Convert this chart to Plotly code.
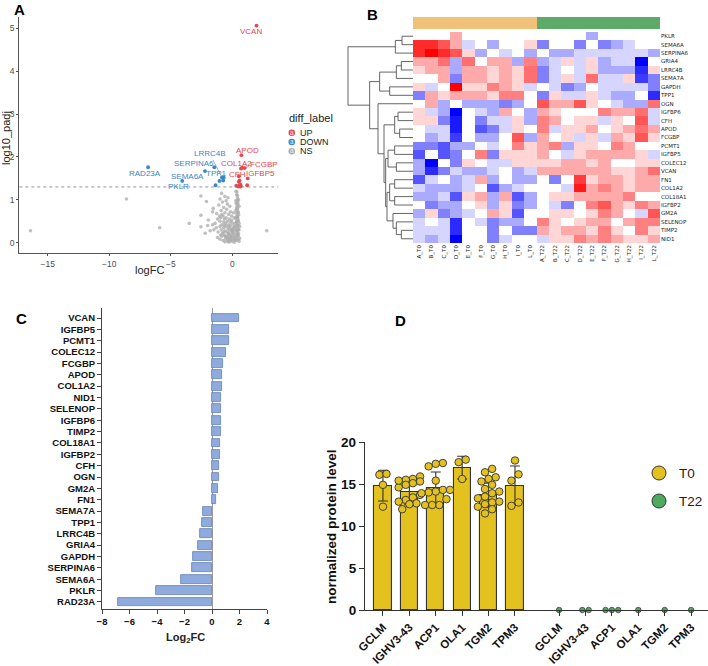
import numpy as np
import plotly.graph_objects as go

W, H = 708, 666
def px(x): return x / W
def py(y): return 1 - y / H

# ---------------- DATA ----------------
# Panel C / significant proteins (log2 fold change)
c_genes = ["VCAN","IGFBP5","PCMT1","COLEC12","FCGBP","APOD","COL1A2","NID1","SELENOP",
           "IGFBP6","TIMP2","COL18A1","IGFBP2","CFH","OGN","GM2A","FN1","SEMA7A","TPP1",
           "LRRC4B","GRIA4","GAPDH","SERPINA6","SEMA6A","PKLR","RAD23A"]
c_log2fc = [1.97,1.26,1.21,1.01,0.81,0.74,0.71,0.68,0.67,0.66,0.65,0.59,0.57,0.54,0.53,0.47,
            0.32,-0.69,-0.74,-0.84,-1.04,-1.36,-1.46,-2.22,-4.07,-6.84]
# Panel A: -log10 adjusted p for the significant proteins (same order as c_genes)
sig_log10padj = [5.06,1.50,1.34,1.74,1.75,2.04,1.73,1.32,1.34,1.31,1.36,1.45,1.33,1.55,1.42,
                 1.31,1.33,1.52,1.45,1.52,1.44,1.34,1.76,1.67,1.44,1.76]
# Panel A: non-significant proteins
ns_logfc = [-16.4,-8.6,-5.9,-3.5,2.8,
 -2.55,-1.0,-0.87,0.3,0.35,0.42,0.38,-0.35,0.5,-0.6,
 -2.1,-1.55,-1.1,-0.8,-0.7,-0.4,-0.2,0.32,0.4,0.45,0.36,0.55,0.28,-0.5,
 -2.55,-1.27,-0.9,-0.75,-0.6,-0.45,-0.3,-0.15,0.3,0.35,0.42,0.48,0.38,0.52,-1.05,-0.85,0.1,-0.05,-1.6,
 -1.95,-1.4,-1.2,-1.0,-0.85,-0.7,-0.65,-0.55,-0.5,-0.4,-0.3,-0.25,-0.15,-0.05,0.05,0.15,0.3,0.35,0.4,0.45,0.38,0.5,0.55,0.32,-0.95,-1.6,-2.0,
 -2.55,-2.2,-1.5,-1.3,-1.15,-1.0,-0.9,-0.8,-0.7,-0.6,-0.5,-0.45,-0.35,-0.3,-0.25,-0.2,-0.1,0.0,0.1,0.2,0.28,0.32,0.36,0.4,0.45,0.5,0.55,0.6,-0.65,-1.8,
 -1.2,-1.0,-0.85,-0.75,-0.65,-0.55,-0.45,-0.38,-0.3,-0.22,-0.15,-0.08,0.0,0.05,0.12,0.18,0.25,0.3,0.35,0.4,0.45,0.5,0.55,0.6,-0.95,-0.6,-0.2,0.15,
 0.42,0.44,0.46,0.43,0.47,0.41,0.45,0.44,0.48,0.43,-0.3,-0.1,0.1,0.2,-0.4,-0.2,0.0,0.25,-0.55,-0.7,-0.35,-0.15,0.05,0.15,-0.05]
ns_log10padj = [0.28,1.02,0.35,0.45,0.28,
 1.09,1.02,1.15,1.2,1.12,1.05,1.18,1.05,1.0,1.08,
 0.96,0.8,0.88,0.95,0.82,0.9,0.85,0.92,0.88,0.95,0.82,0.85,0.98,0.98,
 0.64,0.68,0.75,0.62,0.7,0.78,0.66,0.72,0.75,0.68,0.62,0.72,0.78,0.65,0.62,0.66,0.7,0.62,0.72,
 0.53,0.45,0.55,0.5,0.42,0.48,0.55,0.45,0.58,0.5,0.42,0.55,0.48,0.52,0.45,0.58,0.55,0.48,0.42,0.58,0.5,0.52,0.45,0.6,0.58,0.42,0.4,
 0.37,0.22,0.3,0.35,0.25,0.38,0.3,0.22,0.35,0.28,0.38,0.25,0.32,0.22,0.36,0.28,0.32,0.25,0.35,0.3,0.38,0.25,0.32,0.28,0.35,0.22,0.3,0.38,0.4,0.28,
 0.12,0.08,0.15,0.05,0.18,0.1,0.15,0.05,0.12,0.18,0.08,0.14,0.04,0.1,0.16,0.06,0.12,0.18,0.05,0.14,0.08,0.16,0.03,0.1,0.18,0.02,0.02,0.01,
 1.1,1.0,0.9,0.8,0.7,0.6,0.5,0.4,0.3,0.2,0.2,0.12,0.22,0.08,0.1,0.05,0.3,0.45,0.15,0.25,0.02,0.4,0.28,0.38,0.2]
padj_cutoff = 1.3
volc_labels = ["VCAN","APOD","COL1A2","FCGBP","CFH","IGFBP5","LRRC4B","SERPINA6","TPP1","SEMA6A","PKLR","RAD23A"]

# Panel B heatmap
hm_cols = ["A_T0","B_T0","C_T0","D_T0","E_T0","F_T0","G_T0","H_T0","I_T0","L_T0",
           "A_T22","B_T22","C_T22","D_T22","E_T22","F_T22","G_T22","H_T22","I_T22","L_T22"]
hm_rows = ["PKLR","SEMA6A","SERPINA6","GRIA4","LRRC4B","SEMA7A","GAPDH","TPP1","OGN","IGFBP6",
           "CFH","APOD","FCGBP","PCMT1","IGFBP5","COLEC12","VCAN","FN1","COL1A2","COL18A1",
           "IGFBP2","GM2A","SELENOP","TIMP2","NID1"]
hm_values = [
 [0,0,0,1, 0,0,0,0,0,0,  0,0,0,0,-1,0,0,0,0,0],
 [2.5,2.5,2,1, -0.5,0,-1,0,0,0.5,  -1.5,0,0,-1.5,0,-1.5,-1,-0.5,0,0],
 [2.5,3,2.5,2, 0.5,-1,0,-0.5,0,-1,  0,-1,-1,-0.5,-0.5,-0.5,-0.5,-0.5,-0.5,-1],
 [1,1,1.7,-1, 1.7,0,1,1,-1,1.5,  -1,-0.5,0.5,-0.5,0.5,-1,-0.5,-0.5,-3,0],
 [0.5,1,1,-1, 1,1,0.5,1,0.5,1.7,  -1.5,-0.5,0,-0.5,0.5,-1,-1,-1,-2.5,0.5],
 [0,0,1,-1.5, 1,1,0.5,1,0.5,1.7,  -1.5,-0.5,0.5,-0.5,1.7,-0.5,-0.5,0.5,-2.3,-1.5],
 [0.5,-0.5,0,3, 0.5,0.5,1.5,1,0.5,-0.5,  0,-0.5,-1.5,-1,0,-0.5,-0.5,-0.5,-0.5,-1.5],
 [-1.5,1,0.5,1, 1,1,0.5,1.5,1.5,0,  -1.5,0.5,-0.5,-0.5,0.5,-0.5,-1,-1,0,-2.5],
 [0,1,-1,0, -1,-1,-1,-1.5,-1,0,  2,1,1,2,0.5,0,-0.5,-1,-1,1.7],
 [0.5,-0.5,-1,-3, 0,-0.5,-1,1,0,-1,  1,0.5,0,0,0,1.5,1,1,1.7,-0.5],
 [0.5,0.5,-1.5,-2.7, 0,-1.5,-0.5,-0.5,0.5,-1,  1.5,1,0,0.5,0.5,-0.5,0.5,0,2,-0.5],
 [0,-0.5,-0.5,-2.7, 0,-2,-1.5,-0.5,0.5,0,  1.5,-0.5,0.5,0.5,1,0,0.5,1,1.7,1],
 [0,-1,-0.5,-2.3, 0,-1,-1,0,2,-1,  1,0,0.5,-0.5,0.5,-0.5,1,0.5,2,0.5],
 [-1.5,-1.5,-2,-1, -1,0,-0.5,0,1.5,0.5,  1,1.5,-1,0.5,0.5,0,1.5,1,0,0],
 [-2,0,-2,-1.5, 0,1.5,-1.5,0.5,0.5,0.5,  1,0,-0.5,0.5,1,1,1,1,0.5,-0.5],
 [-1,-3,0,-1.5, 0.5,0,-0.5,-0.5,0.5,0.5,  0.5,0.5,1,1,0.5,1,0,0,0.5,0.5],
 [-1,-2.5,-1.5,-0.5, -1,-1,-0.5,0,-1,-0.5,  1,1,1,1,1,1,0.5,0.5,1,1.7],
 [-2,-0.5,0,-1, -0.5,1,-1,0,-1,-1,  0,-1.5,0,2.3,0.5,1,1,0.5,1,1],
 [-0.5,-1,-1,-1, -0.5,0,-2,-1,-0.5,0,  0,0,-0.5,2.7,1,1.5,1,0.5,1,1],
 [-1,-1,-0.5,-2, 0.5,1,-1,1,-2,-1,  0,0.5,0.5,1,1,1,1,1.5,0,0],
 [0,-1.5,-1,-1, 0,0.5,-1,0.5,-1.5,-1,  0,-0.5,-1.5,0,1.5,2,1,0.5,1.5,1],
 [-1,0.5,-1.5,-1, -0.5,0,1,0.5,-2,0,  0,0.5,0.5,0,0.5,1.5,1,0,-0.5,2],
 [-0.5,0,-0.5,-2.5, 0,-0.5,-1.5,-1,-1,0,  1.5,0.5,0,0.5,1,1,0,1,1.5,1.5],
 [-0.5,-0.5,-0.5,-2.5, 0,0,-1.5,0,-1.5,-1.5,  1,0.5,1,1,0.5,1.5,0.5,0,1.5,0.5],
 [-0.5,-1,-0.5,-3, 0,0,-1.5,-0.5,0,0,  -0.5,0.5,0.5,1.5,1,1.5,1,0.5,0.5,1],
]
# row dendrogram: (left, right, merge distance)
dendro_tree = ((("PKLR", "SEMA6A", 33), "SERPINA6", 53),
               (((("GRIA4", "LRRC4B", 35), "SEMA7A", 50), ("GAPDH", "TPP1", 70), 100),
                ("OGN",
                 ((("IGFBP6", "CFH", 45), ("APOD", "FCGBP", 40), 55),
                  ((("PCMT1", "IGFBP5", 55), ("COLEC12", "VCAN", 50), 75),
                   ((("FN1", "COL1A2", 55), ("COL18A1", "IGFBP2", 55), 70),
                    ("GM2A", ("SELENOP", ("TIMP2", "NID1", 35), 50), 60), 78), 82), 87), 105), 130), 195)

# Panel D
d_genes = ["GCLM","IGHV3-43","ACP1","OLA1","TGM2","TPM3"]
t0_mean = [14.8, 14.0, 14.5, 16.95, 13.65, 14.8]
t0_sd = [1.83, 1.45, 1.93, 1.35, 1.45, 2.35]
t0_points = [
 [16.1, 16.2, 14.9, 12.3],
 [15.9, 15.6, 15.5, 15.3, 15.1, 14.9, 14.6, 13.7, 13.4, 13.1, 12.9, 12.7, 12.6, 12.0, 15.4],
 [17.5, 17.4, 17.1, 15.4, 14.3, 14.3, 14.1, 14.0, 13.9, 13.2, 12.5, 12.5, 12.5],
 [17.9, 17.6, 15.6],
 [16.8, 16.4, 15.8, 15.6, 15.3, 14.9, 14.4, 14.1, 13.9, 13.5, 13.3, 12.9, 12.8, 12.6, 12.3, 12.0, 11.5],
 [17.8, 16.15, 15.4, 12.8, 12.4],
]
t22_points = [[0], [0, 0], [0, 0, 0], [0], [0], [0]]

# ---------------- STYLE ----------------
SANS = "Liberation Sans"
C_UP, C_DOWN, C_NS = "#E5484D", "#3A86C8", "#ABABAB"
YEL, GRN = "#E3C11F", "#4DAA5E"

fig = go.Figure()
ann = []
shapes = []

def note(x, y, text, font, xanchor="center", angle=0):
    ann.append(dict(x=px(x), y=py(y), xref="paper", yref="paper", text=text, showarrow=False,
                    xanchor=xanchor, yanchor="middle", textangle=angle, font=font))

# ---------------- Panel A: volcano ----------------
fig.add_trace(go.Scatter(x=ns_logfc, y=ns_log10padj, mode="markers", xaxis="x", yaxis="y",
                         marker=dict(size=3.6, color=C_NS, opacity=0.75), hoverinfo="skip", showlegend=False))
sig_col = [C_UP if v > 0 else C_DOWN for v in c_log2fc]
fig.add_trace(go.Scatter(x=c_log2fc, y=sig_log10padj, mode="markers", xaxis="x", yaxis="y",
                         marker=dict(size=3.8, color=sig_col), hoverinfo="skip", showlegend=False))
shapes.append(dict(type="line", xref="x domain", yref="y", x0=0, x1=1, y0=padj_cutoff, y1=padj_cutoff,
                   line=dict(color="#7A7A7A", width=0.8, dash="dot")))
# label placements (text centres, data coords)
label_pos = {"VCAN": (1.52, 4.92), "APOD": (1.22, 2.14), "COL1A2": (0.38, 1.85), "FCGBP": (2.6, 1.83),
             "CFH": (0.43, 1.6), "IGFBP5": (2.33, 1.62), "LRRC4B": (-1.82, 2.07), "SERPINA6": (-3.09, 1.85),
             "TPP1": (-1.25, 1.62), "SEMA6A": (-3.63, 1.54), "PKLR": (-4.39, 1.31), "RAD23A": (-7.1, 1.62)}
leaders = {"LRRC4B", "FCGBP"}
for g in volc_labels:
    i = c_genes.index(g)
    col = C_UP if c_log2fc[i] > 0 else C_DOWN
    lx, ly = label_pos[g]
    if g in leaders:
        ann.append(dict(x=c_log2fc[i], y=sig_log10padj[i], xref="x", yref="y", ax=lx, ay=ly,
                        axref="x", ayref="y", text=g, showarrow=True, arrowhead=0, arrowwidth=0.6,
                        arrowcolor=col, standoff=1, font=dict(family=SANS, size=8, color=col)))
    else:
        ann.append(dict(x=lx, y=ly, xref="x", yref="y", text=g, showarrow=False,
                        xanchor="center", yanchor="middle",
                        font=dict(family=SANS, size=8, color=col)))
note(149, 270, "logFC", dict(family=SANS, size=11, color="#222"))
note(6, 138, "log10_padj", dict(family=SANS, size=11, color="#222"), angle=-90)
# legend
note(287, 118, "diff_label", dict(family=SANS, size=11, color="#222"), xanchor="left")
for k, (lab, col) in enumerate([("UP", C_UP), ("DOWN", C_DOWN), ("NS", C_NS)]):
    yy = 132.7 + 9.3 * k
    shapes.append(dict(type="circle", xref="paper", yref="paper", x0=px(288.5), x1=px(295), y0=py(yy + 3.2),
                       y1=py(yy - 3.2), fillcolor=col, line=dict(width=0)))
    note(291.8, yy - 0.5, "a", dict(family=SANS, size=6.5, color="rgba(255,255,255,0.85)"))
    note(298, yy, lab, dict(family=SANS, size=9, color="#222"), xanchor="left")

# ---------------- Panel B: heatmap ----------------
bwr = [[0, "#0000FF"], [0.5, "#FFFFFF"], [1, "#FF0000"]]
fig.add_trace(go.Heatmap(z=hm_values, x=list(range(len(hm_cols))), y=list(range(len(hm_rows))),
                         colorscale=bwr, zmin=-3, zmax=3, showscale=False, xaxis="x2", yaxis="y2",
                         hoverinfo="skip"))
grp = [0 if c.endswith("_T0") else 1 for c in hm_cols]
fig.add_trace(go.Heatmap(z=[grp], x=list(range(len(hm_cols))), y=[0], xaxis="x3", yaxis="y3",
                         colorscale=[[0, "#F2C179"], [0.5, "#F2C179"], [0.5, "#5DAA69"], [1, "#5DAA69"]],
                         zmin=0, zmax=1, showscale=False, hoverinfo="skip"))
row_index = {g: i for i, g in enumerate(hm_rows)}
dx, dy = [], []
def walk(node):
    if isinstance(node, str):
        return row_index[node], 0.0
    l, r, h = node
    yl, hl = walk(l)
    yr, hr = walk(r)
    dx.extend([hl, h, h, hr, None])
    dy.extend([yl, yl, yr, yr, None])
    return (yl + yr) / 2, h
_, root_h = walk(dendro_tree)
fig.add_trace(go.Scatter(x=dx, y=dy, mode="lines", xaxis="x4", yaxis="y2",
                         line=dict(color="#555", width=0.9), hoverinfo="skip", showlegend=False))

# ---------------- Panel C: bar chart ----------------
ci = list(range(len(c_genes)))
fig.add_trace(go.Bar(x=c_log2fc, y=ci, orientation="h", xaxis="x5", yaxis="y5", width=0.78,
                     marker=dict(color="#8FAADC", line=dict(color="#6682B8", width=0.8)),
                     hoverinfo="skip", showlegend=False))
note(185, 638, "Log<sub>2</sub>FC", dict(family=SANS, size=11, color="#222", weight="bold"))

# ---------------- Panel D ----------------
T22_SHIFT = 6.67
pos0 = list(range(len(d_genes)))
pos1 = [p + T22_SHIFT for p in pos0]

def swarm(vals, ystep, xstep):
    vals = np.asarray(vals, float)
    order = np.argsort(vals)
    off = np.zeros(len(vals))
    groups, cur = [], [order[0]]
    for i in order[1:]:
        if vals[i] - vals[cur[0]] < ystep:
            cur.append(i)
        else:
            groups.append(cur)
            cur = [i]
    groups.append(cur)
    for g in groups:
        k = len(g)
        for j, idx in enumerate(g):
            off[idx] = (j - (k - 1) / 2) * xstep
    return off

fig.add_trace(go.Bar(x=pos0, y=t0_mean, width=0.65, xaxis="x6", yaxis="y6",
                     marker=dict(color=YEL, line=dict(color="#333", width=1.1)),
                     error_y=dict(type="data", array=t0_sd, color="#333", thickness=1.1, width=5),
                     hoverinfo="skip", showlegend=False))
xs, ys = [], []
for p, vals in zip(pos0, t0_points):
    off = swarm(vals, 0.8, 0.27)
    xs += list(p + off)
    ys += list(vals)
fig.add_trace(go.Scatter(x=xs, y=ys, mode="markers", xaxis="x6", yaxis="y6", cliponaxis=False,
                         marker=dict(size=7.5, color=YEL, line=dict(color="#333", width=0.9)),
                         hoverinfo="skip", showlegend=False))
xs, ys = [], []
for p, vals in zip(pos1, t22_points):
    off = swarm(vals, 0.8, 0.24)
    xs += list(p + off)
    ys += list(vals)
fig.add_trace(go.Scatter(x=xs, y=ys, mode="markers", xaxis="x6", yaxis="y6", cliponaxis=False,
                         marker=dict(size=5.5, color=GRN, line=dict(color="#333", width=0.7)),
                         hoverinfo="skip", showlegend=False))
note(331, 527, "normalized protein level", dict(family=SANS, size=13.5, color="#111", weight="bold"), angle=-90)
for k, (lab, col) in enumerate([("T0", YEL), ("T22", GRN)]):
    cy = 473 + 28 * k
    shapes.append(dict(type="circle", xref="paper", yref="paper", x0=px(652), x1=px(666), y0=py(cy + 7),
                       y1=py(cy - 7), fillcolor=col, line=dict(color="#333", width=1)))
    note(677, cy, lab, dict(family=SANS, size=13.5, color="#222"), xanchor="left")

# panel letters
for lab, x, y in [("A", 19, 10), ("B", 372, 15), ("C", 21, 319), ("D", 400, 320)]:
    note(x, y, lab, dict(family=SANS, size=15, color="#000", weight="bold"))

# ---------------- LAYOUT ----------------
axA = dict(showgrid=False, zeroline=False, showline=True, linecolor="#555", linewidth=1,
           ticks="outside", ticklen=2, tickcolor="#555", automargin=False,
           tickfont=dict(family=SANS, size=8.5, color="#4D4D4D"))
boldC = dict(family=SANS, size=9.5, color="#111", weight="bold")
boldD = dict(family=SANS, size=13.5, color="#111", weight="bold")
boldDx = dict(family=SANS, size=11.5, color="#111", weight="bold")

dend_span = root_h * (413 - 345) / (413 - 348)
fig.update_layout(
    template="none",
    width=W, height=H, margin=dict(l=0, r=0, t=0, b=0, pad=0), autosize=False,
    paper_bgcolor="white", plot_bgcolor="rgba(0,0,0,0)", showlegend=False,
    bargap=0,
    xaxis=dict(axA, domain=[px(19.3), px(278.3)], range=[-17.31, 3.74], tickvals=[-15, -10, -5, 0],
               anchor="y"),
    yaxis=dict(axA, domain=[py(253.3), py(16.7)], range=[-0.247, 5.27], tickvals=[0, 1, 2, 3, 4, 5],
               anchor="x"),
    xaxis2=dict(domain=[px(413), px(660)], range=[-0.5, len(hm_cols) - 0.5], anchor="y2",
                tickvals=list(range(len(hm_cols))), ticktext=hm_cols, tickangle=-90, ticks="",
                showgrid=False, zeroline=False, showline=False, automargin=False,
                tickfont=dict(family="DejaVu Sans", size=5.5, color="#222")),
    yaxis2=dict(domain=[py(243), py(32)], range=[len(hm_rows) - 0.5, -0.5], anchor="x2", side="right",
                tickvals=list(range(len(hm_rows))), ticktext=hm_rows, ticks="",
                showgrid=False, zeroline=False, showline=False, automargin=False,
                tickfont=dict(family="DejaVu Sans", size=5.5, color="#222")),
    xaxis3=dict(domain=[px(413), px(660)], range=[-0.5, len(hm_cols) - 0.5], anchor="y3",
                visible=False, automargin=False),
    yaxis3=dict(domain=[py(29), py(17)], range=[-0.5, 0.5], anchor="x3", visible=False, automargin=False),
    xaxis4=dict(domain=[px(345), px(413)], range=[dend_span, 0], anchor="y2", visible=False,
                automargin=False),
    xaxis5=dict(domain=[px(102), px(267)], range=[-8, 4], anchor="y5", tickvals=[-8, -6, -4, -2, 0, 2, 4],
                showgrid=False, zeroline=True, zerolinecolor="#9A9A9A", zerolinewidth=1,
                showline=True, linecolor="#444", linewidth=1, ticks="outside", ticklen=4,
                tickcolor="#444", tickfont=boldC, automargin=False),
    yaxis5=dict(domain=[py(609), py(308)], range=[len(c_genes) - 1 + 0.62, -0.88], anchor="x5",
                tickvals=ci, ticktext=c_genes, showgrid=False, zeroline=False, showline=True,
                linecolor="#444", linewidth=1, ticks="outside", ticklen=4, tickcolor="#444",
                tickfont=boldC, automargin=False),
    xaxis6=dict(domain=[px(365), 1.0], range=[-0.68, 12.31], anchor="y6",
                tickvals=pos0 + pos1, ticktext=d_genes + d_genes, tickangle=-45,
                showgrid=False, zeroline=False, showline=True, linecolor="#333", linewidth=1.3,
                ticks="outside", ticklen=5, tickcolor="#333", tickfont=boldDx, automargin=False),
    yaxis6=dict(domain=[py(610), py(442)], range=[0, 20], anchor="x6", tickvals=[0, 5, 10, 15, 20],
                showgrid=False, zeroline=False, showline=True, linecolor="#333", linewidth=1.3,
                ticks="outside", ticklen=5, tickcolor="#333", tickfont=boldD, automargin=False),
    annotations=ann, shapes=shapes,
)

fig.write_html("out.html", config={"displayModeBar": False},
               post_script="document.body.style.margin='0px';")
